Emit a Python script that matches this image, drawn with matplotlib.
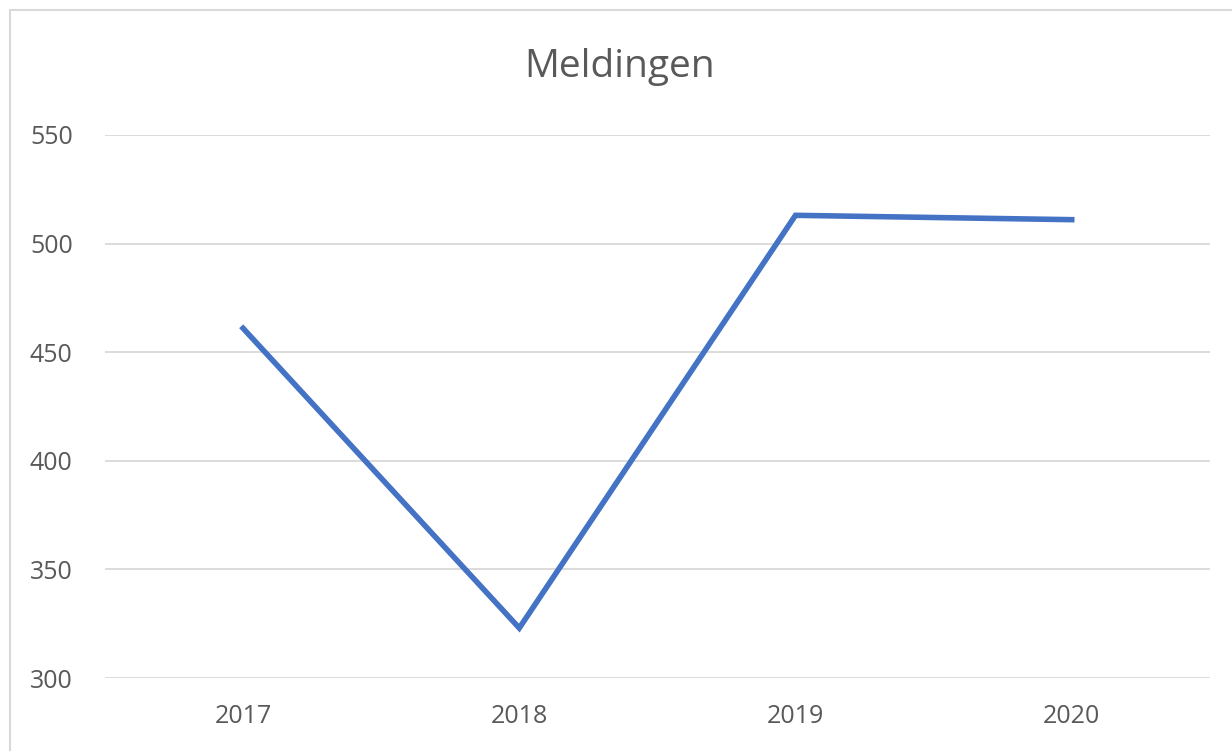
import matplotlib.pyplot as plt
from matplotlib.patches import Rectangle

jaren = ['2017', '2018', '2019', '2020']
meldingen = [461, 323, 513, 511]
y_ticks = [300, 350, 400, 450, 500, 550]

plt.rcParams['font.family'] = ['Open Sans', 'DejaVu Sans']

fig = plt.figure(figsize=(12.32, 7.51), dpi=100)
ax = fig.add_axes([0.0852, 0.0972, 0.8968, 0.7231])

x = range(len(jaren))
ax.plot(x, meldingen, color='#4472C4', linewidth=4.0, solid_joinstyle='miter', zorder=3)

ax.set_xlim(-0.5, len(jaren) - 0.5)
ax.set_ylim(300, 550)
ax.set_yticks(y_ticks)
ax.set_xticks(list(x))
ax.set_xticklabels(jaren)
ax.grid(axis='y', color='#d9d9d9', linewidth=1.3)
ax.set_axisbelow(True)
for s in ax.spines.values():
    s.set_visible(False)
ax.tick_params(length=0, labelsize=18, labelcolor='#595959')
ax.tick_params(axis='y', pad=54)
ax.tick_params(axis='x', pad=19)
for lbl in ax.get_yticklabels():
    lbl.set_horizontalalignment('left')

fig.text(0.503, 1 - 77 / 751, 'Meldingen', ha='center', va='baseline', fontsize=28, color='#595959')

# lichte rand om de grafiek
fig.patches.append(Rectangle((0.008, -0.01), 1.1, 0.997, transform=fig.transFigure,
                             fill=False, edgecolor='#d9d9d9', linewidth=1.5))

fig.savefig('out.png', dpi=100)
